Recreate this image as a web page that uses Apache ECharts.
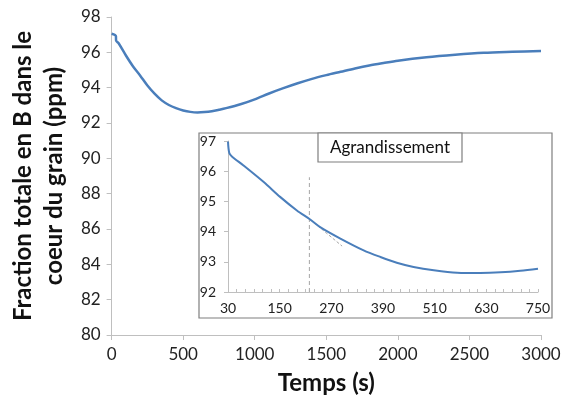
<!DOCTYPE html>
<html><head><meta charset="utf-8">
<script src="https://cdn.jsdelivr.net/npm/echarts@6/dist/echarts.min.js"></script>
<style>html,body{margin:0;padding:0;background:#fff}#c{width:564px;height:406px}</style>
</head><body><div id="c"></div>
<script>
// Main chart data (time in s, fraction in ppm)
const mainTime  = [0, 30, 31, 50, 100, 150, 200, 250, 300, 350, 400, 450, 500, 550, 600, 650, 700, 750, 800, 900, 1000, 1100, 1200, 1300, 1400, 1500, 1600, 1700, 1800, 1900, 2000, 2200, 2400, 2600, 2800, 3000];
const mainValue = [97.05, 96.92, 96.68, 96.5, 95.82, 95.2, 94.68, 94.12, 93.66, 93.28, 93.02, 92.84, 92.71, 92.63, 92.6, 92.62, 92.67, 92.75, 92.84, 93.06, 93.34, 93.67, 93.97, 94.25, 94.5, 94.71, 94.9, 95.09, 95.26, 95.4, 95.53, 95.72, 95.86, 95.97, 96.03, 96.08];
// Inset ("Agrandissement") data
const insetTime  = [30, 33, 39, 66, 113, 151, 190, 220, 244, 291, 345, 384, 422, 461, 508, 562, 616, 663, 709, 750];
const insetValue = [96.98, 96.6, 96.49, 96.19, 95.64, 95.15, 94.7, 94.41, 94.15, 93.77, 93.38, 93.16, 92.97, 92.83, 92.72, 92.64, 92.63, 92.65, 92.7, 92.77];
// Inset guides
const markerTime = [219, 219];
const markerValue = [92, 95.8];
const tangentTime = [220, 295];
const tangentValue = [94.41, 93.52];
const insetStart = 30;
const insetTickLabels = [30, 150, 270, 390, 510, 630, 750];

const F = 'Lato, "Open Sans", sans-serif';
const pairs = (a, b, off) => a.map((t, i) => [t - (off || 0), b[i]]);

const chart = echarts.init(document.getElementById('c'), null, {renderer: 'canvas'});
chart.setOption({
  animation: false,
  backgroundColor: '#fff',
  grid: [
    {left: 110, right: 23, top: 17, bottom: 71},
    {left: 228, right: 26, top: 141, bottom: 114}
  ],
  xAxis: [
    {gridIndex: 0, type: 'value', min: 0, max: 3000, interval: 500,
     name: 'Temps (s)', nameLocation: 'middle', nameGap: 36,
     nameTextStyle: {fontFamily: F, fontSize: 24, fontWeight: 'bold', color: '#111'},
     axisLine: {lineStyle: {color: '#bfbfbf', width: 1}},
     axisTick: {show: true, length: 5, lineStyle: {color: '#bfbfbf'}},
     axisLabel: {fontFamily: F, fontSize: 17, color: '#222', margin: 11, formatter: v => String(v)},
     splitLine: {show: false}},
    {gridIndex: 1, type: 'value', min: 0, max: insetTickLabels[insetTickLabels.length - 1] - insetStart, interval: 20,
     axisLine: {lineStyle: {color: '#bfbfbf', width: 1}},
     axisTick: {show: true, inside: true, length: 3, lineStyle: {color: '#bfbfbf'}},
     axisLabel: {fontFamily: F, fontSize: 14, color: '#222', margin: 9,
       formatter: v => insetTickLabels.includes(Math.round(v + insetStart)) ? String(Math.round(v + insetStart)) : ''},
     splitLine: {show: false}}
  ],
  yAxis: [
    {gridIndex: 0, type: 'value', min: 80, max: 98, interval: 2,
     name: 'Fraction totale en B dans le\ncoeur du grain (ppm)', nameLocation: 'middle', nameGap: 40,
     nameTextStyle: {fontFamily: F, fontSize: 24, fontWeight: 'bold', color: '#111', lineHeight: 31},
     axisLine: {show: true, lineStyle: {color: '#bfbfbf', width: 1}},
     axisTick: {show: true, length: 5, lineStyle: {color: '#bfbfbf'}},
     axisLabel: {fontFamily: F, fontSize: 17, color: '#222', margin: 11},
     splitLine: {show: false}},
    {gridIndex: 1, type: 'value', min: 92, max: 97, interval: 1,
     axisLine: {show: true, lineStyle: {color: '#bfbfbf', width: 1}},
     axisTick: {show: true, length: 4, lineStyle: {color: '#bfbfbf'}},
     axisLabel: {fontFamily: F, fontSize: 14, color: '#222', margin: 12},
     splitLine: {show: false}}
  ],
  graphic: [
    {type: 'rect', shape: {x: 199, y: 133, width: 353, height: 185}, style: {fill: 'none', stroke: '#7f7f7f', lineWidth: 1.2}, z: 1},
    {type: 'rect', shape: {x: 318, y: 133, width: 144, height: 29}, style: {fill: '#fff', stroke: '#7f7f7f', lineWidth: 1.2}, z: 5},
    {type: 'text', x: 390, y: 148, z: 6, style: {text: 'Agrandissement', fontFamily: F, fontSize: 17, fill: '#111', textAlign: 'center', textVerticalAlign: 'middle'}}
  ],
  series: [
    {type: 'line', xAxisIndex: 0, yAxisIndex: 0, data: pairs(mainTime, mainValue), smooth: 0.3, showSymbol: false,
     lineStyle: {color: '#4a7ebb', width: 2.5}},
    {type: 'line', xAxisIndex: 1, yAxisIndex: 1, data: pairs(markerTime, markerValue, insetStart), showSymbol: false,
     lineStyle: {color: '#a6a6a6', width: 1, type: [4, 3]}},
    {type: 'line', xAxisIndex: 1, yAxisIndex: 1, data: pairs(tangentTime, tangentValue, insetStart), showSymbol: false,
     lineStyle: {color: '#a6a6a6', width: 1, type: [3, 2]}},
    {type: 'line', xAxisIndex: 1, yAxisIndex: 1, data: pairs(insetTime, insetValue, insetStart), smooth: 0.3, showSymbol: false,
     lineStyle: {color: '#4a7ebb', width: 2}}
  ]
});
</script></body></html>
